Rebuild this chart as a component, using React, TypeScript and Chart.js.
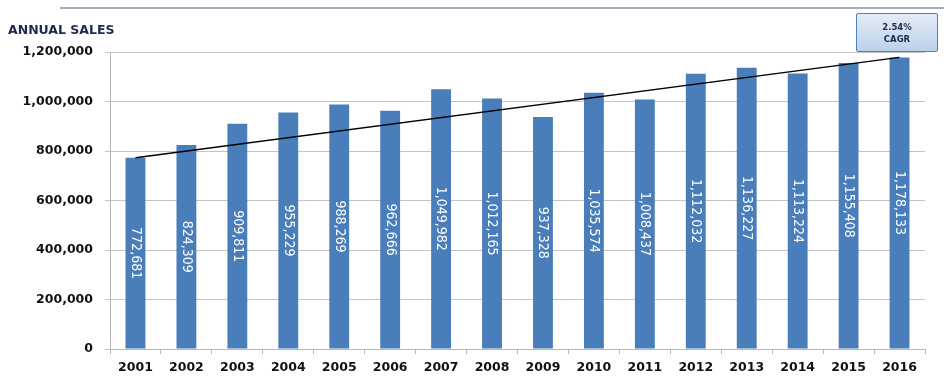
import React, { useEffect, useRef } from "react";
import { Chart, registerables } from "chart.js";

Chart.register(...registerables);

const years = ["2001", "2002", "2003", "2004", "2005", "2006", "2007", "2008", "2009", "2010", "2011", "2012", "2013", "2014", "2015", "2016"];
const sales = [772681, 824309, 909811, 955229, 988269, 962666, 1049982, 1012165, 937328, 1035574, 1008437, 1112032, 1136227, 1113224, 1155408, 1178133];
const trend = [772681, null, null, null, null, null, null, null, null, null, null, null, null, null, null, 1178133];
const yTicks = [0, 200000, 400000, 600000, 800000, 1000000, 1200000];
const titleText = "ANNUAL SALES";
const cagrText = ["2.54%", "CAGR"];

const fmt = (v: number) => v.toLocaleString("en-US");

const barLabels = {
  id: "barLabels",
  afterDatasetsDraw(chart: any) {
    const meta = chart.getDatasetMeta(0);
    const ctx = chart.ctx;
    ctx.save();
    ctx.fillStyle = "#ffffff";
    ctx.font = "14px 'Liberation Sans Narrow', 'DejaVu Sans Condensed', sans-serif";
    ctx.textAlign = "center";
    ctx.textBaseline = "middle";
    meta.data.forEach((el: any, i: number) => {
      const cx = el.x;
      const cy = (el.y + el.base) / 2;
      ctx.save();
      ctx.translate(cx, cy);
      ctx.rotate(Math.PI / 2);
      ctx.fillText(fmt(sales[i]), 0, 0);
      ctx.restore();
    });
    ctx.restore();
  },
};

export default function App() {
  const ref = useRef<HTMLCanvasElement>(null);
  useEffect(() => {
    const chart = new Chart(ref.current!, {
      type: "bar",
      data: {
        labels: years,
        datasets: [
          {
            type: "bar",
            data: sales,
            backgroundColor: "#4a7ebb",
            borderWidth: 0,
            barPercentage: 0.39,
            categoryPercentage: 1,
            order: 2,
          } as any,
          {
            type: "line",
            data: trend,
            spanGaps: true,
            borderColor: "#000000",
            borderWidth: 1.4,
            pointRadius: 0,
            order: 1,
          } as any,
        ],
      },
      options: {
        animation: false,
        responsive: false,
        maintainAspectRatio: false,
        layout: { padding: { top: 52, right: 19, left: 0, bottom: 0 } },
        plugins: { legend: { display: false }, tooltip: { enabled: false } },
        scales: {
          x: {
            grid: { drawOnChartArea: false, drawTicks: true, tickLength: 5, color: "#b8b8b8" },
            border: { display: true, color: "#b8b8b8" },
            ticks: {
              color: "#111111",
              font: { family: "'DejaVu Sans'", weight: "bold", size: 12.5 },
              padding: 6,
              maxRotation: 0,
            },
            afterFit: (s: any) => { s.height = 40; },
          },
          y: {
            min: 0,
            max: 1200000,
            afterBuildTicks: (s: any) => { s.ticks = yTicks.map((v) => ({ value: v })); },
            grid: { color: "#c4c4c4", tickLength: 5 },
            border: { display: true, color: "#b8b8b8" },
            ticks: {
              color: "#111111",
              font: { family: "'DejaVu Sans'", weight: "bold", size: 12.5 },
              padding: 12,
              callback: (v: any) => fmt(Number(v)),
            },
            afterFit: (s: any) => { s.width = 110; },
          },
        },
      },
      plugins: [barLabels],
    });
    return () => chart.destroy();
  }, []);

  return (
    <div style={{ position: "fixed", left: 0, top: 0, width: 944, height: 389, background: "#ffffff", overflow: "hidden" }}>
      <canvas ref={ref} width={944} height={389} style={{ position: "absolute", left: 0, top: 0, width: 944, height: 389 }} />
      <div style={{ position: "absolute", left: 60, top: 7, width: 884, height: 2, background: "#a6afbd" }} />
      <div style={{ position: "absolute", left: 8, top: 22, fontFamily: "'DejaVu Sans', sans-serif", fontWeight: "bold", fontSize: 12.5, color: "#1c2a4e", whiteSpace: "nowrap" }}>{titleText}</div>
      <div style={{ position: "absolute", left: 856, top: 13, width: 80, height: 37, border: "1.5px solid #4f81bd", borderRadius: 2, background: "linear-gradient(#e4ecf7, #bcd0ea)", display: "flex", flexDirection: "column", alignItems: "center", justifyContent: "center", fontFamily: "'DejaVu Sans', sans-serif", fontWeight: "bold", fontSize: 8.5, color: "#1c2a4e", lineHeight: "12px" }}>
        <div>{cagrText[0]}</div>
        <div>{cagrText[1]}</div>
      </div>
    </div>
  );
}
